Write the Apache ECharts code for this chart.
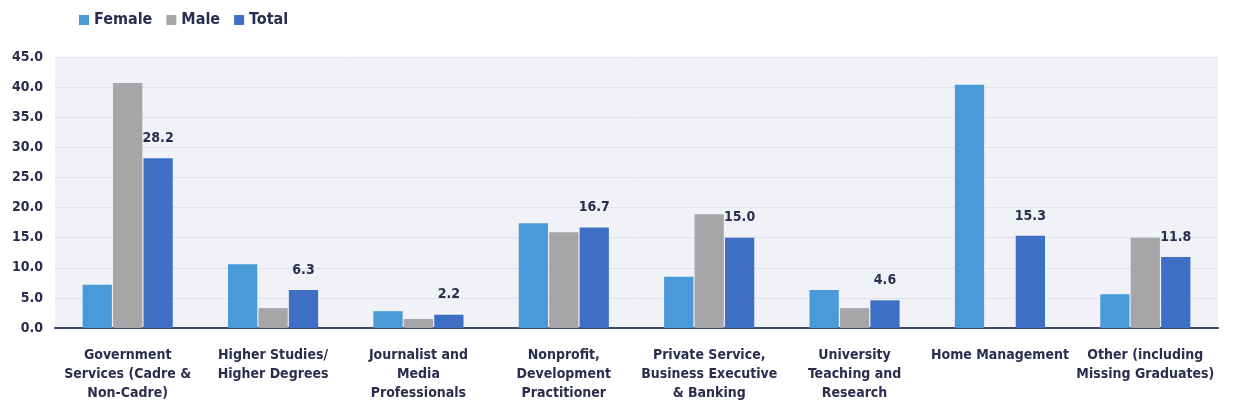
<!DOCTYPE html>
<html>
<head>
<meta charset="utf-8">
<script src="https://cdn.jsdelivr.net/npm/echarts@6/dist/echarts.min.js"></script>
<style>html,body{margin:0;padding:0;background:#fff}#c{width:1238px;height:419px}</style>
</head>
<body>
<div id="c"></div>
<script>
const categories = [
  "Government\nServices (Cadre &\nNon-Cadre)",
  "Higher Studies/\nHigher Degrees",
  "Journalist and\nMedia\nProfessionals",
  "Nonprofit,\nDevelopment\nPractitioner",
  "Private Service,\nBusiness Executive\n& Banking",
  "University\nTeaching and\nResearch",
  "Home Management",
  "Other (including\nMissing Graduates)"
];
const female = [7.2, 10.6, 2.8, 17.4, 8.5, 6.3, 40.4, 5.6];
const male = [40.7, 3.3, 1.5, 15.9, 18.9, 3.3, null, 15.0];
const total = [28.2, 6.3, 2.2, 16.7, 15.0, 4.6, 15.3, 11.8];

const font = '"DejaVu Sans Condensed", "Liberation Sans Narrow", sans-serif';
const txt = '#2b2d4f';
const chart = echarts.init(document.getElementById('c'));
chart.setOption({
  animation: false,
  textStyle: { fontFamily: font },
  legend: {
    left: 74, top: 7, itemWidth: 10, itemHeight: 10, itemGap: 14,
    icon: 'rect',
    textStyle: { fontFamily: font, fontWeight: 'bold', fontSize: 16, color: txt },
    data: ['Female', 'Male', 'Total']
  },
  grid: { left: 55, right: 20, top: 57, bottom: 91, containLabel: false,
          show: true, backgroundColor: '#f0f2f8', borderWidth: 0 },
  xAxis: {
    type: 'category', data: categories,
    axisLine: { lineStyle: { color: '#3a4a6a', width: 2 } },
    axisTick: { show: false },
    axisLabel: { interval: 0, fontFamily: font, fontWeight: 'bold', fontSize: 14, color: txt, lineHeight: 19, margin: 18 }
  },
  yAxis: {
    type: 'value', min: 0, max: 45, interval: 5,
    axisLine: { show: false }, axisTick: { show: false },
    splitLine: { lineStyle: { color: '#dfe2ea', width: 1 } },
    axisLabel: { formatter: v => v.toFixed(1), fontFamily: font, fontWeight: 'bold', fontSize: 14, color: txt, margin: 12 }
  },
  series: [
    { name: 'Female', type: 'bar', data: female, barGap: '4%', barCategoryGap: '38%', itemStyle: { color: '#4a9ad8' } },
    { name: 'Male', type: 'bar', data: male, itemStyle: { color: '#a6a6a8' } },
    { name: 'Total', type: 'bar', data: total, itemStyle: { color: '#3f6fc4' },
      label: { show: true, position: 'top', formatter: p => p.value.toFixed(1), fontFamily: font, fontWeight: 'bold', fontSize: 14, color: txt, distance: 13 } }
  ]
});
</script>
</body>
</html>
